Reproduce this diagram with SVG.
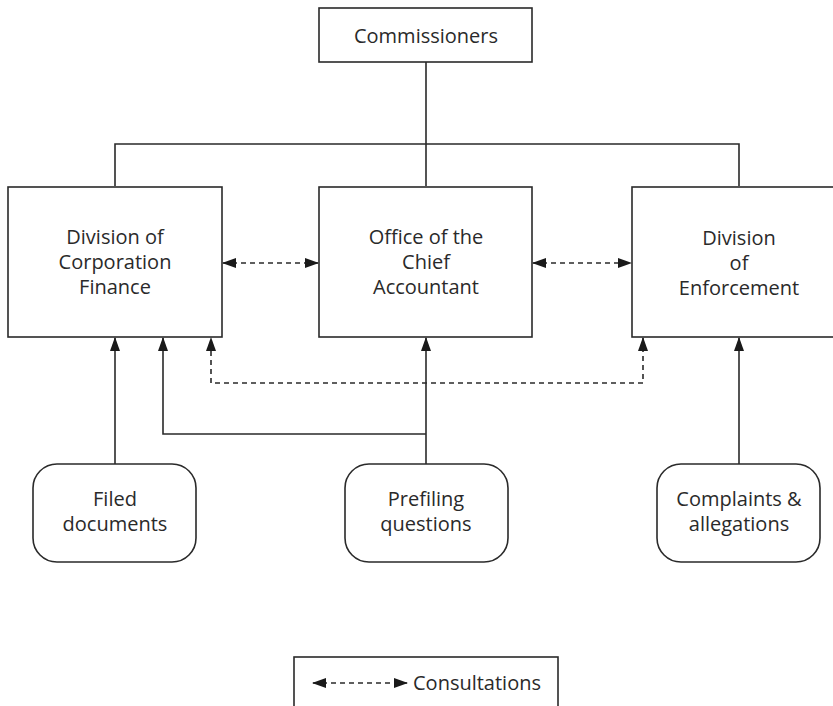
<svg xmlns="http://www.w3.org/2000/svg" width="833" height="706" viewBox="0 0 833 706">
<style>
.box{fill:#fff;stroke:#2a2a2a;stroke-width:1.6}
.ln{fill:none;stroke:#2a2a2a;stroke-width:1.6}
.dash{fill:none;stroke:#2a2a2a;stroke-width:1.6;stroke-dasharray:5,4}
text{font-family:"Open Sans",Lato,"Liberation Sans",sans-serif;font-size:20px;fill:#2a2a2a;text-anchor:middle}
</style>
<defs>
<marker id="ah" markerUnits="userSpaceOnUse" markerWidth="14" markerHeight="10" refX="13" refY="5" orient="auto-start-reverse" viewBox="0 0 14 10">
<path d="M0,0 L14,5 L0,10 Z" fill="#1a1a1a"/>
</marker>
</defs>
<rect width="833" height="706" fill="#fff"/>
<g id="connectors">
<path class="ln" d="M426,62 V144 M115,186 V144 H739 V186"/>
<path class="ln" d="M426,144 V186"/>
<path class="dash" d="M223,263 H318" marker-start="url(#ah)" marker-end="url(#ah)"/>
<path class="dash" d="M533,263 H631" marker-start="url(#ah)" marker-end="url(#ah)"/>
<path class="ln" d="M115,464 V338" marker-end="url(#ah)"/>
<path class="ln" d="M426,434 H163 V338" marker-end="url(#ah)"/>
<path class="ln" d="M426,464 V338" marker-end="url(#ah)"/>
<path class="ln" d="M739,464 V338" marker-end="url(#ah)"/>
<path class="dash" d="M643,338 V383 H211 V338" marker-start="url(#ah)" marker-end="url(#ah)"/>
</g>
<g id="commissioners">
<rect class="box" x="319" y="8" width="213" height="54"/>
<text x="426" y="43">Commissioners</text>
</g>
<g id="corpfin">
<rect class="box" x="8" y="187" width="214" height="150"/>
<text x="115" y="244">Division of</text>
<text x="115" y="269">Corporation</text>
<text x="115" y="294">Finance</text>
</g>
<g id="chiefacct">
<rect class="box" x="319" y="187" width="213" height="150"/>
<text x="426" y="244">Office of the</text>
<text x="426" y="269">Chief</text>
<text x="426" y="294">Accountant</text>
</g>
<g id="enforcement">
<rect class="box" x="632" y="187" width="214" height="150"/>
<text x="739" y="245">Division</text>
<text x="739" y="270">of</text>
<text x="739" y="295">Enforcement</text>
</g>
<g id="filed">
<rect class="box" x="33" y="464" width="163" height="98" rx="24"/>
<text x="115" y="506">Filed</text>
<text x="115" y="531">documents</text>
</g>
<g id="prefiling">
<rect class="box" x="345" y="464" width="163" height="98" rx="24"/>
<text x="426" y="506">Prefiling</text>
<text x="426" y="531">questions</text>
</g>
<g id="complaints">
<rect class="box" x="657" y="464" width="163" height="98" rx="24"/>
<text x="739" y="506">Complaints &amp;</text>
<text x="739" y="531">allegations</text>
</g>
<g id="legend">
<rect class="box" x="294" y="657" width="264" height="60"/>
<path class="dash" d="M313,683 H407" marker-start="url(#ah)" marker-end="url(#ah)"/>
<text x="413" y="690" style="text-anchor:start">Consultations</text>
</g>
</svg>
